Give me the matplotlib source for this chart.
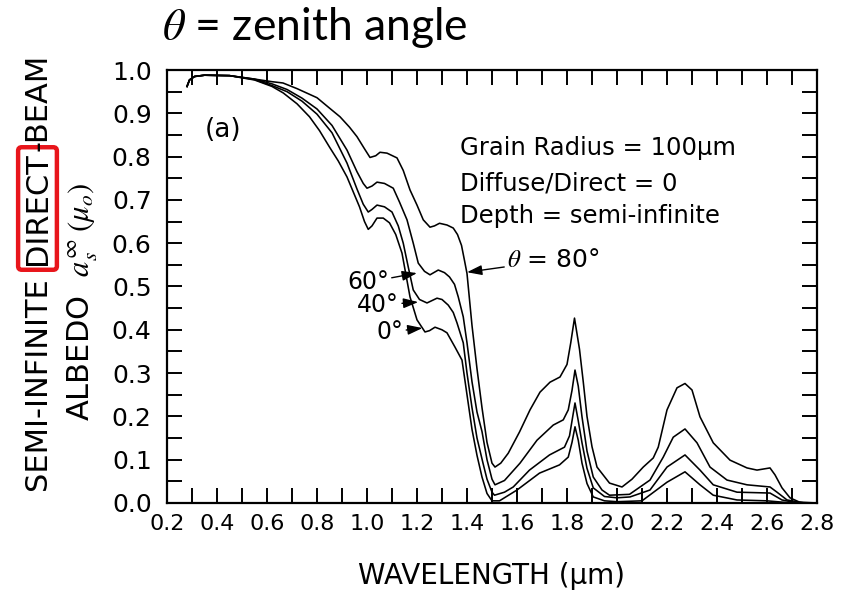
#!/usr/bin/env python3
# -*- coding: utf-8 -*-
# Semi-infinite direct-beam snow albedo vs wavelength, four zenith angles

import matplotlib
matplotlib.use('Agg')
import matplotlib.pyplot as plt
from matplotlib.ticker import MultipleLocator, FormatStrFormatter

plt.rcParams['font.family'] = ['DejaVu Sans']
plt.rcParams['mathtext.fontset'] = 'stix'

#%% DATA

wl_80  = [0.28, 0.29, 0.31, 0.35, 0.45, 0.55, 0.62, 0.664, 0.72, 0.80, 0.85, 0.892, 0.93, 0.96, 0.99, 1.012, 1.035, 1.052, 1.08, 1.12,
          1.145, 1.172, 1.20, 1.225, 1.252, 1.27, 1.29, 1.32, 1.345, 1.362, 1.378, 1.39, 1.40, 1.41, 1.42, 1.44, 1.46, 1.48, 1.50, 1.512,
          1.535, 1.565, 1.61, 1.652, 1.692, 1.732, 1.772, 1.80, 1.815, 1.83, 1.85, 1.865, 1.88, 1.90, 1.92, 1.97, 2.02, 2.06, 2.105, 2.145,
          2.165, 2.20, 2.24, 2.272, 2.30, 2.332, 2.385, 2.452, 2.52, 2.56, 2.612, 2.632, 2.66, 2.692, 2.73, 2.80]
alb_80 = [0.962, 0.977, 0.985, 0.988, 0.987, 0.979, 0.973, 0.970, 0.957, 0.936, 0.912, 0.892, 0.868, 0.846, 0.818, 0.798, 0.802, 0.810, 0.808, 0.797,
          0.768, 0.723, 0.688, 0.654, 0.637, 0.640, 0.646, 0.642, 0.635, 0.620, 0.595, 0.560, 0.530, 0.470, 0.410, 0.310, 0.220, 0.140, 0.092, 0.083,
          0.092, 0.115, 0.164, 0.215, 0.256, 0.279, 0.291, 0.320, 0.370, 0.427, 0.355, 0.280, 0.200, 0.130, 0.083, 0.046, 0.037, 0.055, 0.083, 0.104,
          0.129, 0.215, 0.266, 0.276, 0.261, 0.199, 0.139, 0.099, 0.081, 0.076, 0.081, 0.065, 0.035, 0.012, 0.002, 0.0]

wl_60  = [0.28, 0.29, 0.31, 0.35, 0.45, 0.55, 0.62, 0.68, 0.74, 0.80, 0.86, 0.92, 0.96, 0.985, 1.00, 1.02, 1.04, 1.07, 1.105, 1.13,
          1.16, 1.185, 1.205, 1.23, 1.252, 1.285, 1.31, 1.33, 1.35, 1.365, 1.385, 1.40, 1.42, 1.44, 1.46, 1.48, 1.50, 1.512, 1.55, 1.612,
          1.68, 1.745, 1.785, 1.805, 1.82, 1.832, 1.845, 1.86, 1.88, 1.905, 1.94, 1.97, 2.05, 2.132, 2.185, 2.225, 2.272, 2.32, 2.372, 2.44,
          2.52, 2.612, 2.64, 2.68, 2.75, 2.80]
alb_60 = [0.962, 0.977, 0.985, 0.988, 0.987, 0.979, 0.968, 0.955, 0.935, 0.910, 0.872, 0.815, 0.765, 0.738, 0.727, 0.732, 0.741, 0.738, 0.727, 0.695,
          0.654, 0.600, 0.554, 0.535, 0.527, 0.538, 0.532, 0.522, 0.505, 0.476, 0.430, 0.370, 0.280, 0.210, 0.165, 0.100, 0.055, 0.042, 0.052, 0.092,
          0.145, 0.180, 0.192, 0.215, 0.260, 0.307, 0.270, 0.199, 0.120, 0.060, 0.030, 0.018, 0.020, 0.053, 0.106, 0.152, 0.171, 0.139, 0.083, 0.053,
          0.042, 0.037, 0.025, 0.007, 0.0, 0.0]

wl_40  = [0.28, 0.29, 0.31, 0.35, 0.45, 0.55, 0.62, 0.68, 0.74, 0.80, 0.86, 0.92, 0.96, 0.985, 1.005, 1.02, 1.04, 1.07, 1.10, 1.125,
          1.145, 1.165, 1.185, 1.21, 1.24, 1.28, 1.30, 1.325, 1.345, 1.36, 1.385, 1.40, 1.42, 1.44, 1.464, 1.48, 1.50, 1.51, 1.55, 1.585,
          1.65, 1.73, 1.79, 1.81, 1.832, 1.845, 1.86, 1.88, 1.905, 1.95, 2.0, 2.052, 2.132, 2.20, 2.272, 2.332, 2.385, 2.48, 2.612, 2.66,
          2.72, 2.80]
alb_40 = [0.962, 0.977, 0.985, 0.988, 0.987, 0.978, 0.964, 0.950, 0.928, 0.898, 0.855, 0.785, 0.725, 0.690, 0.672, 0.678, 0.688, 0.684, 0.672, 0.640,
          0.600, 0.545, 0.492, 0.470, 0.462, 0.473, 0.470, 0.457, 0.440, 0.416, 0.370, 0.300, 0.220, 0.150, 0.092, 0.055, 0.025, 0.018, 0.025, 0.037,
          0.076, 0.111, 0.129, 0.155, 0.231, 0.190, 0.139, 0.080, 0.035, 0.015, 0.012, 0.014, 0.030, 0.083, 0.111, 0.076, 0.042, 0.025, 0.023, 0.007,
          0.0, 0.0]

wl_0   = [0.28, 0.29, 0.31, 0.35, 0.45, 0.55, 0.62, 0.665, 0.72, 0.77, 0.81, 0.85, 0.885, 0.92, 0.97, 0.99, 1.005, 1.02, 1.04, 1.065,
          1.09, 1.115, 1.14, 1.172, 1.20, 1.232, 1.25, 1.272, 1.30, 1.32, 1.352, 1.38, 1.40, 1.42, 1.44, 1.46, 1.48, 1.50, 1.53, 1.60,
          1.69, 1.77, 1.805, 1.82, 1.832, 1.845, 1.86, 1.88, 1.905, 1.95, 2.0, 2.10, 2.20, 2.272, 2.332, 2.385, 2.48, 2.60, 2.70, 2.80]
alb_0  = [0.962, 0.977, 0.985, 0.988, 0.987, 0.977, 0.962, 0.947, 0.922, 0.892, 0.860, 0.822, 0.790, 0.753, 0.684, 0.650, 0.632, 0.640, 0.658, 0.658,
          0.647, 0.620, 0.577, 0.476, 0.423, 0.395, 0.398, 0.406, 0.400, 0.393, 0.360, 0.330, 0.250, 0.170, 0.110, 0.060, 0.022, 0.005, 0.005, 0.030,
          0.069, 0.088, 0.106, 0.140, 0.176, 0.145, 0.092, 0.045, 0.014, 0.005, 0.003, 0.005, 0.048, 0.072, 0.042, 0.018, 0.007, 0.005, 0.0, 0.0]

# Angle labels: text, text centre, arrow tip
angle_labels = ['60°', '40°', '0°']
label_xy     = [(1.004, 0.510), (1.045, 0.457), (1.092, 0.395)]
arrow_xy     = [(1.200, 0.531), (1.205, 0.464), (1.222, 0.404)]

info_lines = ['Grain Radius = 100μm', 'Diffuse/Direct = 0', 'Depth = semi-infinite']
info_y     = [0.820, 0.739, 0.663]

#%% FIGURE

W, H = 852, 597
fig = plt.figure(figsize=(W / 100, H / 100), dpi=100)
ax  = fig.add_axes([167 / W, 1 - 503 / H, 650 / W, 433 / H])

for wl, alb in [(wl_0, alb_0), (wl_40, alb_40), (wl_60, alb_60), (wl_80, alb_80)]:
    ax.plot(wl, alb, color='black', linewidth=1.15, solid_joinstyle='round')

ax.set_xlim(0.2, 2.8)
ax.set_ylim(0.0, 1.0)
ax.xaxis.set_major_locator(MultipleLocator(0.2))
ax.xaxis.set_minor_locator(MultipleLocator(0.1))
ax.yaxis.set_major_locator(MultipleLocator(0.1))
ax.yaxis.set_minor_locator(MultipleLocator(0.05))
ax.xaxis.set_major_formatter(FormatStrFormatter('%.1f'))
ax.yaxis.set_major_formatter(FormatStrFormatter('%.1f'))
ax.tick_params(which='both', direction='in', top=True, right=True, width=1.4, length=11)
ax.tick_params(axis='x', which='major', labelsize=16, pad=8)
ax.tick_params(axis='y', which='major', labelsize=18, pad=11)
for s in ax.spines.values():
    s.set_linewidth(1.6)

# Panel tag and run parameters
ax.text(0.424, 0.861, '(a)', fontsize=19, ha='center', va='center')
for line, y in zip(info_lines, info_y):
    ax.text(1.372, y, line, fontsize=17.5, ha='left', va='center')

# Zenith angle labels with arrows
arrow = dict(arrowstyle='-|>,head_length=0.9,head_width=0.3', mutation_scale=10,
             color='black', lw=1.0, shrinkA=0, shrinkB=0)
for lab, (tx, ty), (px, py) in zip(angle_labels, label_xy, arrow_xy):
    ax.annotate(lab, xy=(px, py), xytext=(tx, ty), fontsize=17, ha='center', va='center', arrowprops=arrow)
ax.annotate(r'$\theta$ = 80°', xy=(1.400, 0.533), xytext=(1.56, 0.561), fontsize=18, ha='left', va='center', arrowprops=arrow)

ax.set_xlabel('WAVELENGTH (μm)', fontsize=20, labelpad=20)

# Y label, first line: DIRECT boxed, the rest chained below and above it
renderer = fig.canvas.get_renderer()
box = dict(boxstyle='round,pad=0.16,rounding_size=0.12', fc='none', ec='#e8151b', lw=3.2)
mid = fig.text(37.5 / W, 1 - 208.5 / H, 'DIRECT', rotation=90, ha='center', va='center', fontsize=22, bbox=box)
bb  = mid.get_window_extent(renderer)
fig.text(37.5 / W, (bb.y0 - 12) / H, 'SEMI-INFINITE', rotation=90, ha='center', va='top', fontsize=22)
fig.text(37.5 / W, (bb.y1 + 1) / H, '-BEAM', rotation=90, ha='center', va='bottom', fontsize=22)
fig.text(83 / W, 1 - 302 / H, r'ALBEDO  $a_s^{\infty}\;(\mu_o)$', rotation=90, ha='center', va='center', fontsize=22)

fig.text(162 / W, 1 - 27 / H, r'$\theta$ = zenith angle', fontsize=32, family='Lato', ha='left', va='center')

fig.savefig('out.png', dpi=100)
